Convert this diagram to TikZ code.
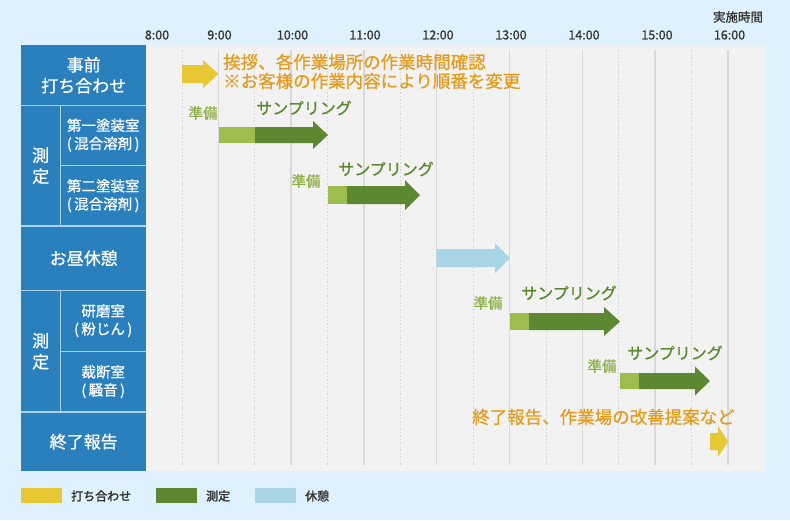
\documentclass[tikz,border=0pt]{standalone}
\usepackage{fontspec}
\setmainfont{Noto Sans CJK JP}
\newfontfamily\jpmed[FakeBold=0.8]{Noto Sans CJK JP}
\newfontfamily\jpbold[FakeBold=2]{Noto Sans CJK JP}
\definecolor{bgc}{HTML}{DFF1FC}
\definecolor{chartc}{HTML}{F2F2F2}
\definecolor{panelc}{HTML}{2A7FBD}
\definecolor{sepc}{HTML}{A6D0EE}
\definecolor{gridc}{HTML}{D9D9D9}
\definecolor{dotc}{HTML}{D2D2D2}
\definecolor{yelc}{HTML}{E8C734}
\definecolor{dgreen}{HTML}{5E8731}
\definecolor{lgreen}{HTML}{9DBE4F}
\definecolor{lblue}{HTML}{A8D6E6}
\definecolor{orangec}{HTML}{E49C1E}
\definecolor{dgtext}{HTML}{5A8A2D}
\definecolor{lgtext}{HTML}{8DB045}
\definecolor{darktext}{HTML}{333333}
\newcommand\mkarrow[7]{\fill[#1] (#2,{#5-#6}) -- (#3,{#5-#6}) -- (#3,{#5-#7}) -- (#4,#5) -- (#3,{#5+#7}) -- (#3,{#5+#6}) -- (#2,{#5+#6}) -- cycle;}
\tikzset{
  cell/.style={fill=panelc, text=white, inner sep=0pt, align=center, anchor=north west, font=\jpmed\fontsize{17}{21}\selectfont},
  subcell/.style={cell, font=\jpmed\fontsize{14.5}{18}\selectfont},
  sepline/.style={draw=sepc, line width=1.8pt},
  timelbl/.style={text=darktext, font=\jpmed\fontsize{12.5}{14}\selectfont, inner sep=0pt},
  orangetxt/.style={text=orangec, font=\jpmed\fontsize{17.5}{19}\selectfont, inner sep=0pt, anchor=west},
  samp/.style={text=dgtext, font=\jpmed\fontsize{16}{18}\selectfont, inner sep=0pt},
  prep/.style={text=lgtext, font=\jpmed\fontsize{14.5}{16}\selectfont, inner sep=0pt},
  legtxt/.style={text=darktext, font=\jpbold\fontsize{12}{14}\selectfont, inner sep=0pt, anchor=west},
  gridsolid/.style={draw=gridc, line width=1.5pt},
  griddot/.style={draw=dotc, line width=0.8pt, dash pattern=on 1.5pt off 2pt}
}
\begin{document}
\begin{tikzpicture}[x=1pt,y=-1pt]
\useasboundingbox (0,0) rectangle (790,520);
\fill[bgc] (0,0) rectangle (790,520);
\fill[chartc] (146,45) rectangle (766,471);
% grid
\foreach \h in {1,...,8} \draw[gridsolid] ({145.5+72.8*\h},50) -- ({145.5+72.8*\h},465);
\foreach \h in {0,...,7} \draw[griddot] ({181.9+72.8*\h},50) -- ({181.9+72.8*\h},465);
% time labels
\node[timelbl] (t8) at (157,35) {8:00};
\node[timelbl] (t9) at (219.5,35) {9:00};
\node[timelbl] (t10) at (292.5,35) {10:00};
\node[timelbl] (t11) at (365,35) {11:00};
\node[timelbl] (t12) at (438,35) {12:00};
\node[timelbl] (t13) at (511,35) {13:00};
\node[timelbl] (t14) at (584,35) {14:00};
\node[timelbl] (t15) at (657,35) {15:00};
\node[timelbl] (t16) at (729.5,35) {16:00};
\node[timelbl] (jisshi) at (738,17) {実施時間};
% panel
\node[cell, minimum width=125pt, minimum height=60pt] (c1) at (21,45) {事前\\打ち合わせ};
\node[cell, minimum width=39pt, minimum height=121pt] (m1) at (21,105) {測\\定};
\node[subcell, minimum width=86pt, minimum height=60pt] (s1) at (60,105) {第一塗装室\\(\,混合溶剤\,)};
\node[subcell, minimum width=86pt, minimum height=61pt] (s2) at (60,165) {第二塗装室\\(\,混合溶剤\,)};
\node[cell, minimum width=125pt, minimum height=64pt] (lunch) at (21,226) {お昼休憩};
\node[cell, minimum width=39pt, minimum height=122pt] (m2) at (21,290) {測\\定};
\node[subcell, minimum width=86pt, minimum height=61pt] (s3) at (60,290) {研磨室\\(\,粉じん\,)};
\node[subcell, minimum width=86pt, minimum height=61pt] (s4) at (60,351) {裁断室\\(\,騒音\,)};
\node[cell, minimum width=125pt, minimum height=59pt] (fin) at (21,412) {終了報告};
% separators
\draw[sepline] (c1.south west) -- (c1.south east);
\draw[sepline] (m1.north east) -- (m1.south east);
\draw[sepline] (s1.south west) -- (s1.south east);
\draw[sepline] (lunch.north west) -- (lunch.north east);
\draw[sepline] (lunch.south west) -- (lunch.south east);
\draw[sepline] (m2.north east) -- (m2.south east);
\draw[sepline] (s3.south west) -- (s3.south east);
\draw[sepline] (fin.north west) -- (fin.north east);
% row 1
\mkarrow{yelc}{182}{203}{218.5}{74}{9}{14}
\node[orangetxt] (greet1) at (223,62) {挨拶、各作業場所の作業時間確認};
\node[orangetxt] (greet2) at (223,81) {※お客様の作業内容により順番を変更};
% measure 1
\fill[lgreen] (218.5,127) rectangle (255,143);
\mkarrow{dgreen}{255}{313}{328}{135}{8}{14}
\node[prep] (p1) at (203,113) {準備};
\node[samp] (sa1) at (304,108) {サンプリング};
% measure 2
\fill[lgreen] (328,186) rectangle (347,204);
\mkarrow{dgreen}{347}{405}{420}{195}{9}{15}
\node[prep] (p2) at (306,181) {準備};
\node[samp] (sa2) at (386,169) {サンプリング};
% lunch
\mkarrow{lblue}{436.5}{495}{510}{258}{9}{15}
% measure 3
\fill[lgreen] (510,313) rectangle (529,330);
\mkarrow{dgreen}{529}{604}{620}{321.5}{8.5}{14.5}
\node[prep] (p3) at (488,303) {準備};
\node[samp] (sa3) at (569,293) {サンプリング};
% measure 4
\fill[lgreen] (620,373) rectangle (639,389);
\mkarrow{dgreen}{639}{695}{710}{381}{8}{14.5}
\node[prep] (p4) at (602,366) {準備};
\node[samp] (sa4) at (675,353) {サンプリング};
% final
\node[orangetxt] (endtxt) at (472,417) {終了報告、作業場の改善提案など};
\mkarrow{yelc}{710}{718}{728}{441.5}{8.5}{15.5}
% legend
\fill[yelc] (21,488) rectangle (62,503);
\node[legtxt] (l1) at (71,496) {打ち合わせ};
\fill[dgreen] (156,488) rectangle (197,503);
\node[legtxt] (l2) at (206,496) {測定};
\fill[lblue] (255,488) rectangle (296,503);
\node[legtxt] (l3) at (305,496) {休憩};
\end{tikzpicture}
\end{document}
